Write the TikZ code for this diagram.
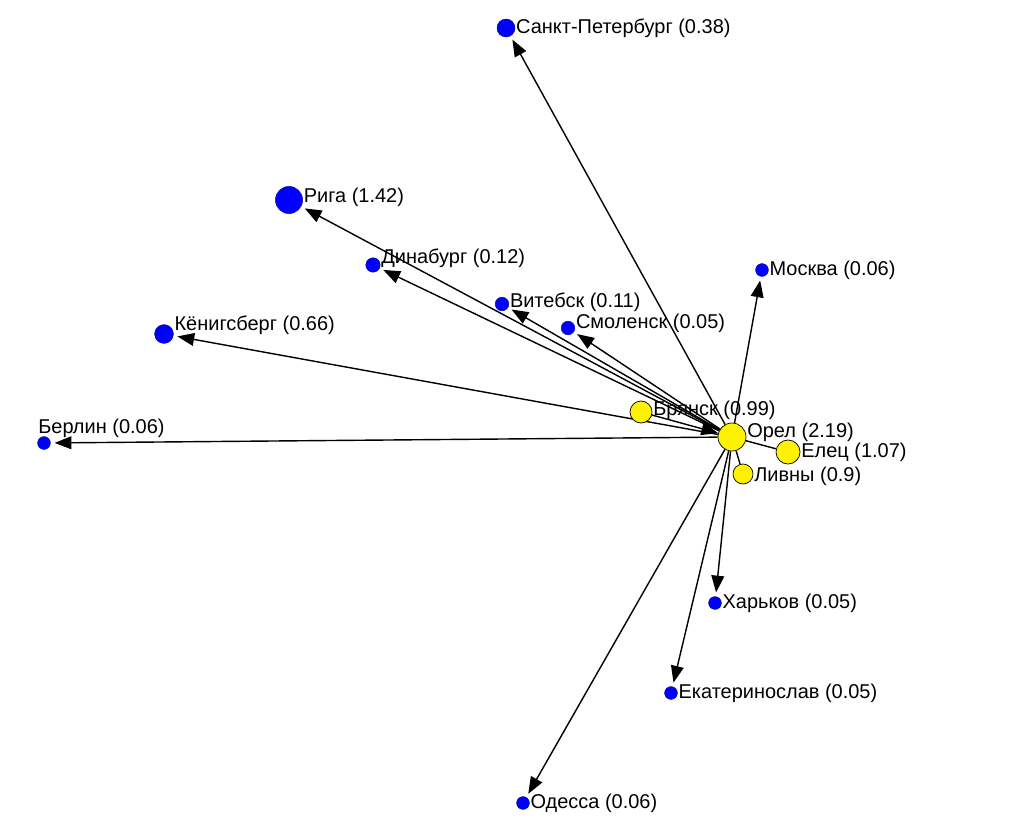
\documentclass[tikz,border=0pt]{standalone}
\usepackage{fontspec}
\setmainfont{Liberation Sans}
\usetikzlibrary{positioning, arrows.meta, backgrounds}

\begin{document}
\begin{tikzpicture}[
    x=0.025cm, y=-0.025cm,
    % ====================
    % ESTILOS
    % ====================
    city/.style={
        circle, fill=blue, draw=blue!60!black, line width=0.3pt,
        inner sep=0pt, minimum size=#1
    },
    city/.default=0.32cm,
    hub/.style={
        circle, fill=yellow, draw=black, line width=0.5pt,
        inner sep=0pt, minimum size=#1
    },
    lbl/.style={
        inner sep=0.5pt, font=\fontsize{14.2}{16}\selectfont, text=black
    },
    flow/.style={
        line width=1pt, draw=black, shorten >=0.1cm,
        -{Triangle[length=0.42cm, width=0.32cm]}
    },
    tie/.style={
        line width=1pt, draw=black
    }
]

\useasboundingbox (0,0) rectangle (1024,834);

% ====================
% NODOS
% ====================

% Centro (amarillo)
\node[hub=0.55cm] (bryansk) at (641,412) {};
\node[hub=0.6cm] (elets) at (788,452) {};
\node[hub=0.5cm] (livny) at (743,474) {};
\node[hub=0.7cm] (orel) at (732,437) {};

% Destinos (azul)
\node[city=0.45cm] (spb) at (506,28) {};
\node[city=0.68cm] (riga) at (289,200) {};
\node[city=0.36cm] (dinaburg) at (373,265) {};
\node[city=0.34cm] (vitebsk) at (502,304) {};
\node[city=0.34cm] (smolensk) at (568,328) {};
\node[city=0.47cm] (koenigsberg) at (164,334) {};
\node[city] (moskva) at (762,270) {};
\node[city] (berlin) at (44,443) {};
\node[city] (kharkov) at (715,603) {};
\node[city] (ekaterinoslav) at (671,693) {};
\node[city] (odessa) at (523,803) {};

% Etiquetas
\node[lbl, right=0pt of spb] (spb-l) {Санкт-Петербург (0.38)};
\node[lbl, right=0pt of riga, yshift=0.075cm] (riga-l) {Рига (1.42)};
\node[lbl, right=0pt of dinaburg, yshift=0.175cm] (dinaburg-l) {Динабург (0.12)};
\node[lbl, right=0pt of vitebsk, yshift=0.05cm] (vitebsk-l) {Витебск (0.11)};
\node[lbl, right=0pt of smolensk, yshift=0.125cm] (smolensk-l) {Смоленск (0.05)};
\node[lbl, right=0pt of koenigsberg, yshift=0.225cm] (koenigsberg-l) {Кёнигсберг (0.66)};
\node[lbl, right=0pt of moskva] (moskva-l) {Москва (0.06)};
\node[lbl, right=0pt of berlin.west, yshift=0.375cm] (berlin-l) {Берлин (0.06)};
\node[lbl, right=0pt of bryansk, yshift=0.05cm] (bryansk-l) {Брянск (0.99)};
\node[lbl, right=0pt of orel, yshift=0.125cm] (orel-l) {Орел (2.19)};
\node[lbl, right=0pt of elets] (elets-l) {Елец (1.07)};
\node[lbl, right=0pt of livny, yshift=-0.05cm] (livny-l) {Ливны (0.9)};
\node[lbl, right=0pt of kharkov] (kharkov-l) {Харьков (0.05)};
\node[lbl, right=0pt of ekaterinoslav] (ekaterinoslav-l) {Екатеринослав (0.05)};
\node[lbl, right=0pt of odessa] (odessa-l) {Одесса (0.06)};

% ====================
% FLUJOS
% ====================
\begin{scope}[on background layer]
    \fill[white] (0,0) rectangle (1024,834);
    \draw[flow] (orel) -- (spb);
    \draw[flow] (orel) -- (riga);
    \draw[flow] (orel) -- (dinaburg);
    \draw[flow] (orel) -- (vitebsk);
    \draw[flow] (orel) -- (smolensk);
    \draw[flow] (orel) -- (koenigsberg);
    \draw[flow] (orel) -- (berlin);
    \draw[flow] (orel) -- (moskva);
    \draw[flow] (orel) -- (kharkov);
    \draw[flow] (orel) -- (ekaterinoslav);
    \draw[flow] (orel) -- (odessa);
    \draw[flow, shorten >=0pt] (bryansk) -- (orel);
    \draw[tie] (elets) -- (orel);
    \draw[tie] (livny) -- (orel);
\end{scope}

\end{tikzpicture}
\end{document}
